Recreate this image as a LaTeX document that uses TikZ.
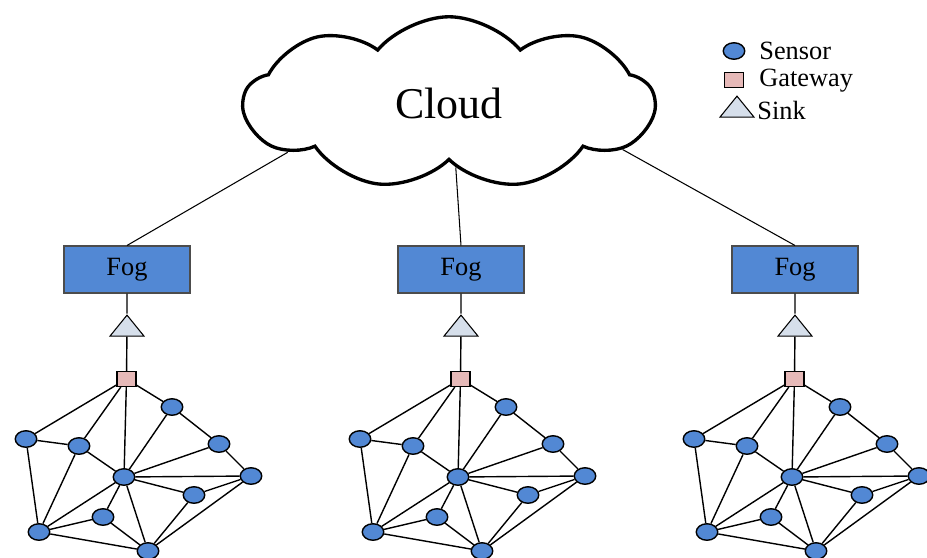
\documentclass[tikz,border=0pt]{standalone}
\usepackage{fontspec}
\setmainfont{Liberation Serif}
\usetikzlibrary{shapes.geometric,shapes.symbols}

\definecolor{sensorblue}{RGB}{82,136,212}
\definecolor{gatepink}{RGB}{230,185,184}
\definecolor{sinkgray}{RGB}{214,223,235}

\tikzset{
    sensor/.style={ellipse, draw=black, fill=sensorblue, line width=0.8pt, minimum width=0.43cm, minimum height=0.33cm, inner sep=0pt},
    gateway/.style={rectangle, draw=black, fill=gatepink, line width=0.6pt, minimum width=0.38cm, minimum height=0.3cm, inner sep=0pt},
    sink/.style={isosceles triangle, isosceles triangle stretches, shape border rotate=90, draw=black, fill=sinkgray, line width=0.6pt, minimum width=0.68cm, minimum height=0.42cm, inner sep=0pt},
    fogbox/.style={rectangle, draw=black!70, fill=sensorblue, line width=0.6pt, minimum width=2.52cm, minimum height=0.94cm, font=\fontsize{15}{17}\selectfont},
    legendtxt/.style={anchor=west, inner sep=0pt, font=\fontsize{15}{17}\selectfont},
    link/.style={line width=0.8pt},
}

\begin{document}
\begin{tikzpicture}[x=0.02cm, y=-0.02cm]
        \useasboundingbox (0,0) rectangle (927,558);

        \node[cloud, draw, line width=1.9pt, cloud puffs=9, cloud puff arc=100, aspect=2.3, minimum width=8.2cm, minimum height=3.45cm, font=\fontsize{25}{29}\selectfont] (cloud) at (449,103) {Cloud};

        % legend
        \node[sensor] (lsensor) at (734,51) {};
        \node[legendtxt] (lsensortxt) at (759,51) {Sensor};
        \node[gateway] (lgateway) at (734,80) {};
        \node[legendtxt] (lgatewaytxt) at (759,81) {Gateway};
        \node[sink] (lsink) at (737,109) {};
        \node[legendtxt] (lsinktxt) at (757,110) {Sink};

        \foreach \c/\dx/\ang in {1/0/197, 2/334/276, 3/668/345}{
            \begin{scope}[shift={(\dx,0)}]
                \node[fogbox] (fog\c) at (127,269.5) {Fog};
                \node[sink] (sink\c) at (127,328) {};
                \node[gateway] (gw\c) at (126.5,379) {};

                \node[sensor] (a\c) at (172,407) {};
                \node[sensor] (b\c) at (26,439) {};
                \node[sensor] (c\c) at (79,446) {};
                \node[sensor] (d\c) at (219,444) {};
                \node[sensor] (e\c) at (124,477) {};
                \node[sensor] (f\c) at (251,476) {};
                \node[sensor] (g\c) at (194,495) {};
                \node[sensor] (h\c) at (103,517) {};
                \node[sensor] (i\c) at (39,532) {};
                \node[sensor] (j\c) at (148,551) {};

                \draw[link] (fog\c) -- (sink\c) -- (gw\c);
                \foreach \u/\v in {gw/a,gw/b,gw/c,gw/e,b/c,b/i,c/e,c/i,a/e,a/d,d/f,d/e,e/f,e/g,e/h,e/j,e/i,g/f,g/j,f/j,h/i,h/j,i/j}
                    \draw[link] (\u\c) -- (\v\c);

                \draw[line width=0.6pt] (cloud.\ang) -- (fog\c.north);
            \end{scope}
        }
\end{tikzpicture}
\end{document}
